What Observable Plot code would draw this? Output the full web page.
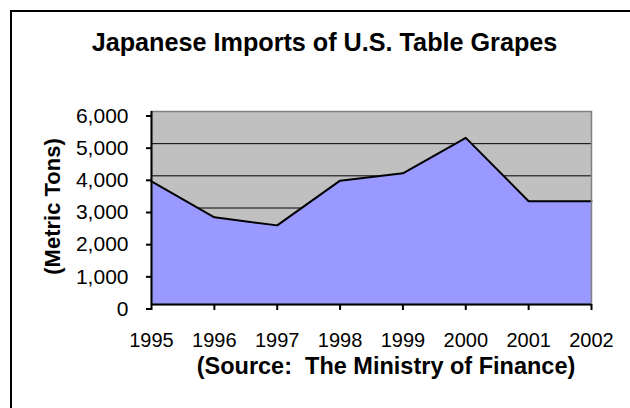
<!DOCTYPE html>
<html>
<head>
<meta charset="utf-8">
<script src="https://cdn.jsdelivr.net/npm/d3@7"></script>
<script src="https://cdn.jsdelivr.net/npm/@observablehq/plot@0.6"></script>
<style>
  html, body { margin: 0; padding: 0; background: #fff; overflow: hidden; }
  #wrap { position: relative; width: 630px; height: 408px; }
  #border { position: absolute; left: 10px; top: 10px; width: 700px; height: 500px; border: 2px solid #000; pointer-events: none; }
  svg text { white-space: pre; }
</style>
</head>
<body>
<div id="wrap"><div id="border"></div></div>
<script>
const years = [1995, 1996, 1997, 1998, 1999, 2000, 2001, 2002];
const tons = [3830, 2710, 2460, 3850, 4080, 5180, 3210, 3210];
const yTicks = [0, 1000, 2000, 3000, 4000, 5000, 6000];
const gridTicks = [1000, 2000, 3000, 4000, 5000];
const title = "Japanese Imports of U.S. Table Grapes";
const yLabel = "(Metric Tons)";
const caption = "(Source:  The Ministry of Finance)";

const data = years.map((y, i) => ({year: y, tons: tons[i]}));
const font = "'Liberation Sans', Arial, sans-serif";

const chart = Plot.plot({
  width: 630,
  height: 408,
  marginLeft: 151,
  marginRight: 39,
  marginTop: 111,
  marginBottom: 104,
  style: {fontFamily: font, background: "transparent", color: "#000"},
  x: {type: "linear", domain: [1995, 2002]},
  y: {domain: [0, 6000]},
  marks: [
    Plot.frame({fill: "#C0C0C0", stroke: null}),
    Plot.ruleY(gridTicks, {stroke: "#000", strokeWidth: 1}),
    Plot.areaY(data, {x: "year", y: "tons", fill: "#9999FF"}),
    Plot.lineY(data, {x: "year", y: "tons", stroke: "#000", strokeWidth: 2}),
    Plot.frame({stroke: "#808080", strokeWidth: 1.5}),
    Plot.ruleX([1995], {stroke: "#000", strokeWidth: 2}),
    Plot.ruleY([0], {stroke: "#000", strokeWidth: 2}),
    Plot.axisY({ticks: yTicks, tickFormat: d3.format(","), tickSize: 5, tickPadding: 18, fontSize: 21, dy: 4.5, stroke: "#000", strokeWidth: 2, label: null}),
    Plot.axisX({ticks: years, tickFormat: d3.format("d"), tickSize: 6, tickPadding: 22, fontSize: 20, stroke: "#000", strokeWidth: 2, label: null}),
    Plot.text([title], {frameAnchor: "top", dx: -47, dy: -69, lineAnchor: "middle", fontSize: 25.2, fontWeight: "bold"}),
    Plot.text([yLabel], {frameAnchor: "left", textAnchor: "middle", dx: -98.5, dy: -1.5, rotate: -90, lineAnchor: "middle", fontSize: 22, fontWeight: "bold"}),
    Plot.text([caption], {frameAnchor: "bottom", dx: 14.5, dy: 61.5, lineAnchor: "middle", fontSize: 23.5, fontWeight: "bold"})
  ]
});
document.getElementById("wrap").prepend(chart);
</script>
</body>
</html>
